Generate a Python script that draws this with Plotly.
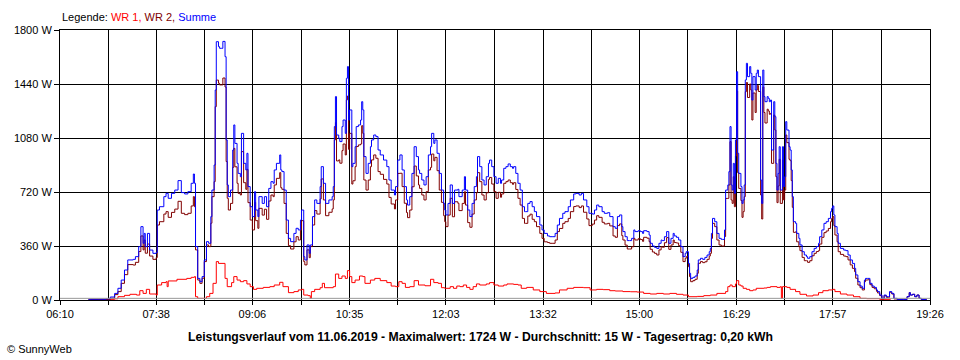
import plotly.graph_objects as go

# ---------------- data ----------------
TICK_LABELS = ["06:10", "07:38", "09:06", "10:35", "12:03", "13:32",
               "15:00", "16:29", "17:57", "19:26"]
Y_TICKS = [0, 360, 720, 1080, 1440, 1800]
BASELINE_W = 11

SUMME_TIME = [
    "06:36", "06:45", "06:52", "06:56", "07:00", "07:03", "07:06", "07:09", "07:12", "07:17",
    "07:19", "07:22", "07:24", "07:26", "07:27", "07:28", "07:30", "07:32", "07:35", "07:38",
    "07:39", "07:41", "07:45", "07:47", "07:49", "07:52", "07:55", "07:58", "08:01", "08:04",
    "08:07", "08:10", "08:12", "08:13", "08:14", "08:16", "08:18", "08:20", "08:22", "08:24",
    "08:26", "08:28", "08:29", "08:31", "08:32", "08:33", "08:35", "08:36", "08:38", "08:39",
    "08:41", "08:42", "08:43", "08:44", "08:46", "08:48", "08:49", "08:50", "08:52", "08:53",
    "08:55", "08:56", "08:58", "09:00", "09:01", "09:02", "09:04", "09:06", "09:08", "09:09",
    "09:11", "09:12", "09:15", "09:17", "09:19", "09:21", "09:23", "09:25", "09:26", "09:28",
    "09:31", "09:32", "09:33", "09:35", "09:37", "09:39", "09:41", "09:44", "09:46", "09:48",
    "09:50", "09:51", "09:53", "09:54", "09:56", "09:58", "09:59", "10:01", "10:03", "10:05",
    "10:08", "10:09", "10:11", "10:13", "10:16", "10:19", "10:20", "10:21", "10:22", "10:23",
    "10:25", "10:26", "10:28", "10:29", "10:31", "10:32", "10:33", "10:34", "10:35", "10:37",
    "10:38", "10:40", "10:41", "10:43", "10:45", "10:46", "10:47", "10:48", "10:50", "10:52",
    "10:54", "10:55", "10:57", "10:59", "11:01", "11:03", "11:06", "11:09", "11:11", "11:13",
    "11:16", "11:17", "11:19", "11:21", "11:23", "11:25", "11:27", "11:28", "11:30", "11:32",
    "11:34", "11:36", "11:38", "11:39", "11:41", "11:43", "11:45", "11:47", "11:49", "11:50",
    "11:52", "11:53", "11:55", "11:57", "11:59", "12:01", "12:02", "12:03", "12:05", "12:07",
    "12:09", "12:11", "12:14", "12:15", "12:18", "12:20", "12:21", "12:23", "12:25", "12:27",
    "12:29", "12:31", "12:32", "12:34", "12:36", "12:38", "12:40", "12:42", "12:43", "12:45",
    "12:47", "12:49", "12:51", "12:53", "12:54", "12:56", "12:58", "13:00", "13:02", "13:04",
    "13:05", "13:07", "13:09", "13:11", "13:13", "13:15", "13:16", "13:18", "13:20", "13:22",
    "13:24", "13:26", "13:29", "13:31", "13:33", "13:36", "13:38", "13:41", "13:43", "13:45",
    "13:47", "13:50", "13:52", "13:55", "13:57", "14:00", "14:02", "14:05", "14:07", "14:09",
    "14:12", "14:14", "14:17", "14:19", "14:21", "14:23", "14:26", "14:28", "14:31", "14:33",
    "14:36", "14:38", "14:40", "14:42", "14:44", "14:45", "14:47", "14:49", "14:51", "14:53",
    "14:55", "14:56", "14:59", "15:01", "15:03", "15:04", "15:07", "15:09", "15:10", "15:12",
    "15:14", "15:16", "15:18", "15:20", "15:21", "15:23", "15:25", "15:27", "15:29", "15:31",
    "15:32", "15:34", "15:36", "15:38", "15:40", "15:42", "15:43", "15:45", "15:46", "15:47",
    "15:49", "15:51", "15:53", "15:54", "15:56", "15:58", "16:00", "16:02", "16:04", "16:05",
    "16:06", "16:07", "16:09", "16:11", "16:13", "16:15", "16:16", "16:18", "16:19", "16:21",
    "16:22", "16:23", "16:24", "16:25", "16:26", "16:27", "16:28", "16:29", "16:30", "16:31",
    "16:33", "16:34", "16:35", "16:36", "16:37", "16:38", "16:39", "16:41", "16:42", "16:43",
    "16:44", "16:46", "16:47", "16:48", "16:49", "16:51", "16:52", "16:53", "16:54", "16:55",
    "16:57", "16:58", "16:59", "17:00", "17:01", "17:03", "17:04", "17:05", "17:06", "17:07",
    "17:08", "17:09", "17:11", "17:12", "17:13", "17:14", "17:15", "17:17", "17:18", "17:19",
    "17:20", "17:21", "17:23", "17:24", "17:26", "17:27", "17:29", "17:31", "17:33", "17:34",
    "17:36", "17:38", "17:40", "17:42", "17:44", "17:45", "17:47", "17:49", "17:51", "17:53",
    "17:55", "17:56", "17:57", "17:58", "17:59", "18:01", "18:02", "18:04", "18:07", "18:09",
    "18:11", "18:13", "18:15", "18:17", "18:18", "18:20", "18:22", "18:24", "18:26", "18:27",
    "18:29", "18:31", "18:33", "18:35", "18:37", "18:38", "18:40", "18:42", "18:44", "18:46",
    "18:48", "18:49", "18:51", "18:53", "18:56", "19:02", "19:05", "19:07", "19:08", "19:10",
    "19:12", "19:14", "19:16", "19:18", "19:23",
]
SUMME_W = [
    5, 5, 8, 20, 44, 78, 133, 200, 267, 271,
    289, 356, 489, 378, 444, 356, 444, 333, 311, 316,
    600, 622, 689, 711, 678, 711, 733, 796, 716, 707,
    722, 778, 840, 778, 356, 144, 122, 156, 267, 389,
    378, 556, 733, 900, 1400, 1722, 1689, 1678, 1678, 1724,
    1622, 1067, 767, 689, 733, 1000, 1167, 1044, 911, 844,
    822, 1111, 911, 867, 978, 756, 622, 556, 722, 600,
    556, 689, 644, 689, 622, 744, 789, 778, 867, 911,
    967, 867, 856, 733, 533, 411, 389, 444, 478, 467,
    533, 600, 289, 267, 367, 311, 367, 556, 667, 644,
    756, 889, 778, 644, 667, 689, 756, 1156, 1356, 1100,
    1078, 1056, 1156, 1200, 1111, 1478, 1556, 1200, 1267, 889,
    911, 1022, 1156, 1167, 1200, 1322, 1267, 956, 844, 911,
    1022, 1067, 1100, 1089, 1000, 967, 933, 889, 800, 733,
    700, 756, 933, 967, 867, 756, 667, 633, 689, 844,
    1022, 956, 867, 844, 800, 767, 822, 967, 1022, 1111,
    1044, 1067, 978, 844, 733, 644, 600, 567, 644, 767,
    644, 733, 738, 689, 733, 822, 733, 600, 556, 644,
    756, 822, 956, 889, 800, 767, 822, 911, 933, 889,
    822, 778, 811, 778, 800, 878, 889, 907, 889, 878,
    889, 844, 778, 733, 622, 589, 589, 644, 656, 622,
    589, 556, 500, 467, 444, 427, 422, 422, 444, 500,
    544, 578, 589, 622, 667, 707, 711, 700, 711, 667,
    622, 578, 573, 600, 633, 622, 589, 578, 582, 556,
    489, 478, 556, 567, 489, 456, 422, 396, 396, 411,
    467, 456, 462, 456, 444, 462, 456, 433, 378, 360,
    351, 344, 378, 400, 396, 422, 456, 378, 411, 444,
    427, 418, 400, 356, 289, 311, 322, 244, 178, 144,
    151, 160, 200, 267, 278, 271, 284, 300, 322, 344,
    444, 544, 522, 444, 411, 404, 404, 467, 733, 767,
    856, 1156, 767, 733, 911, 711, 1067, 1522, 978, 844,
    756, 644, 667, 767, 1467, 1578, 1489, 1556, 1511, 1333,
    1489, 1400, 1511, 1533, 1489, 800, 644, 1533, 1356, 1322,
    1356, 1344, 1322, 1333, 1000, 1322, 1222, 911, 733, 844,
    1022, 733, 1022, 756, 822, 1189, 1133, 1022, 1000, 867,
    689, 522, 511, 444, 411, 367, 322, 300, 289, 278,
    289, 322, 344, 356, 378, 422, 467, 511, 522, 544,
    589, 611, 627, 567, 489, 444, 378, 344, 333, 329,
    300, 267, 244, 211, 167, 122, 93, 78, 133, 144,
    144, 111, 93, 84, 67, 56, 33, 11, 33, 22,
    22, 56, 44, 11, 4, 4, 22, 49, 33, 38,
    22, 33, 11, 4, 4,
]
WR2_TIME = SUMME_TIME
WR2_W = [
    4, 4, 4, 12, 36, 56, 111, 169, 236, 233,
    251, 323, 427, 334, 400, 312, 373, 293, 271, 283,
    500, 522, 573, 589, 551, 584, 606, 658, 578, 569,
    578, 627, 689, 622, 334, 133, 111, 145, 256, 367,
    356, 512, 689, 789, 1289, 1466, 1445, 1434, 1434, 1480,
    1420, 923, 678, 600, 644, 884, 1011, 888, 778, 711,
    700, 989, 782, 738, 871, 649, 533, 467, 651, 529,
    478, 611, 566, 605, 538, 660, 700, 689, 767, 811,
    849, 749, 738, 644, 444, 362, 340, 388, 422, 400,
    466, 529, 256, 234, 334, 282, 356, 500, 596, 573,
    674, 807, 667, 562, 585, 607, 667, 1067, 1183, 927,
    934, 912, 996, 1040, 967, 1334, 1360, 1004, 1111, 773,
    795, 889, 1023, 1034, 1040, 1162, 1111, 800, 733, 800,
    889, 934, 967, 945, 856, 838, 804, 773, 684, 640,
    607, 667, 844, 845, 756, 645, 583, 549, 600, 755,
    893, 827, 767, 744, 700, 667, 722, 867, 884, 973,
    928, 951, 862, 733, 651, 562, 522, 489, 566, 678,
    555, 655, 645, 596, 644, 722, 633, 516, 485, 573,
    667, 715, 849, 789, 700, 667, 715, 804, 817, 773,
    722, 678, 718, 685, 707, 778, 789, 800, 782, 771,
    782, 737, 678, 633, 544, 511, 511, 560, 572, 538,
    522, 489, 444, 411, 388, 383, 378, 378, 400, 456,
    477, 511, 522, 544, 589, 623, 627, 616, 627, 585,
    540, 496, 506, 533, 562, 551, 518, 507, 511, 494,
    427, 418, 496, 507, 429, 400, 366, 340, 340, 355,
    411, 400, 409, 403, 391, 418, 412, 389, 338, 320,
    311, 300, 334, 356, 352, 382, 416, 338, 367, 400,
    383, 380, 362, 318, 256, 278, 289, 222, 156, 122,
    129, 138, 178, 245, 256, 249, 255, 271, 293, 311,
    411, 511, 489, 400, 367, 360, 360, 423, 677, 678,
    767, 1056, 667, 644, 822, 622, 960, 1393, 849, 744,
    663, 551, 589, 689, 1389, 1450, 1350, 1440, 1400, 1200,
    1380, 1250, 1400, 1430, 1390, 700, 540, 1420, 1250, 1180,
    1272, 1260, 1238, 1244, 911, 1233, 1133, 822, 649, 760,
    938, 644, 933, 667, 733, 1100, 1049, 938, 929, 796,
    618, 451, 455, 388, 355, 329, 284, 262, 262, 251,
    262, 295, 311, 323, 329, 373, 418, 449, 460, 477,
    522, 544, 556, 496, 433, 388, 322, 304, 293, 289,
    267, 234, 211, 189, 145, 100, 82, 67, 122, 133,
    135, 102, 84, 75, 58, 47, 29, 7, 29, 18,
    18, 52, 40, 7, 4, 4, 22, 49, 33, 38,
    22, 33, 11, 4, 4,
]
WR1_TIME = [
    "06:38", "07:00", "07:03", "07:09", "07:14", "07:20", "07:23", "07:26", "07:29", "07:32",
    "07:38", "07:39", "07:43", "07:47", "07:48", "07:49", "07:57", "08:06", "08:10", "08:13",
    "08:14", "08:16", "08:24", "08:27", "08:30", "08:33", "08:35", "08:41", "08:43", "08:47",
    "08:49", "08:52", "08:55", "08:58", "09:01", "09:04", "09:07", "09:10", "09:16", "09:22",
    "09:26", "09:31", "09:34", "09:39", "09:44", "09:48", "09:51", "09:53", "09:57", "09:59",
    "10:00", "10:03", "10:08", "10:10", "10:12", "10:20", "10:22", "10:25", "10:28", "10:31",
    "10:33", "10:35", "10:37", "10:40", "10:44", "10:47", "10:49", "10:54", "10:58", "11:03",
    "11:09", "11:13", "11:17", "11:20", "11:23", "11:26", "11:30", "11:34", "11:38", "11:44",
    "11:49", "11:52", "11:56", "11:59", "12:02", "12:07", "12:10", "12:13", "12:16", "12:19",
    "12:22", "12:25", "12:28", "12:31", "12:34", "12:40", "12:43", "12:47", "12:51", "12:56",
    "12:59", "13:05", "13:09", "13:12", "13:17", "13:23", "13:29", "13:35", "13:43", "13:47",
    "13:54", "14:00", "14:09", "14:15", "14:21", "14:27", "14:33", "14:38", "14:45", "14:52",
    "14:58", "15:04", "15:10", "15:16", "15:22", "15:28", "15:34", "15:40", "15:45", "15:53",
    "15:59", "16:05", "16:11", "16:19", "16:21", "16:23", "16:25", "16:28", "16:29", "16:31",
    "16:33", "16:35", "16:38", "16:41", "16:44", "16:47", "16:54", "16:57", "17:00", "17:06",
    "17:09", "17:10", "17:11", "17:15", "17:18", "17:23", "17:27", "17:33", "17:39", "17:44",
    "17:48", "17:53", "17:57", "17:59", "18:04", "18:10", "18:16", "18:22", "18:28", "18:40",
    "18:50",
]
WR1_W = [
    4, 8, 22, 31, 38, 33, 62, 44, 71, 40,
    33, 100, 116, 122, 89, 127, 138, 144, 151, 156,
    22, 11, 22, 44, 111, 256, 244, 144, 89, 116,
    156, 133, 122, 129, 107, 89, 71, 78, 84, 89,
    100, 118, 89, 49, 56, 67, 71, 33, 29, 11,
    56, 71, 82, 111, 82, 89, 173, 144, 160, 144,
    196, 156, 116, 133, 160, 156, 111, 133, 144, 129,
    116, 93, 89, 122, 111, 84, 89, 129, 100, 95,
    138, 116, 111, 82, 78, 89, 78, 93, 89, 100,
    84, 71, 89, 107, 100, 107, 116, 100, 93, 100,
    107, 104, 100, 78, 84, 67, 56, 44, 47, 67,
    78, 84, 82, 67, 71, 69, 62, 60, 56, 55,
    53, 44, 40, 44, 40, 44, 38, 33, 22, 24,
    29, 33, 44, 56, 89, 100, 89, 107, 129, 100,
    93, 78, 71, 62, 67, 78, 80, 84, 89, 84,
    89, 11, 89, 84, 71, 56, 38, 27, 33, 49,
    62, 67, 71, 56, 40, 33, 22, 11, 9, 4,
    4,
]

LEGEND_LABEL = "Legende: "
SERIES_NAMES = ["WR 1", "WR 2", "Summe"]
TITLE = ("Leistungsverlauf vom 11.06.2019 - Maximalwert: 1724 W - "
         "Durchschnitt: 15 W - Tagesertrag: 0,20 kWh")
COPYRIGHT = "© SunnyWeb"

# ---------------- helpers ----------------
def to_min(t):
    h, m = t.split(":")
    return int(h) * 60 + int(m)

COL_WR1 = "#FF0000"
COL_WR2 = "#800000"
COL_SUM = "#0000FF"
FONT = "Liberation Sans, Arial, sans-serif"

label_vals = [to_min(t) for t in TICK_LABELS]
tickvals, ticktext = [], []
for i, v in enumerate(label_vals):
    tickvals.append(v)
    ticktext.append(TICK_LABELS[i])
    if i + 1 < len(label_vals):
        tickvals.append((v + label_vals[i + 1]) / 2)
        ticktext.append("")

fig = go.Figure()
for name, times, vals, col in [
    (SERIES_NAMES[0], WR1_TIME, WR1_W, COL_WR1),
    (SERIES_NAMES[1], WR2_TIME, WR2_W, COL_WR2),
    (SERIES_NAMES[2], SUMME_TIME, SUMME_W, COL_SUM),
]:
    fig.add_trace(go.Scatter(
        x=[to_min(t) for t in times], y=vals, name=name, mode="lines",
        line=dict(color=col, width=1, shape="hv"), hoverinfo="skip",
    ))

axis_common = dict(
    showgrid=True, gridcolor="#000000", gridwidth=1,
    showline=True, linecolor="#000000", linewidth=1, mirror=True,
    ticks="outside", tickcolor="#000000", tickwidth=1,
    tickfont=dict(family=FONT, size=11, color="#000000"),
    zeroline=False, fixedrange=True,
)

fig.update_layout(
    width=960, height=360, autosize=False,
    margin=dict(l=60, r=30, t=30, b=60, pad=0),
    paper_bgcolor="#FFFFFF", plot_bgcolor="#FFFFFF",
    showlegend=False,
    xaxis=dict(range=[label_vals[0], label_vals[-1]], tickmode="array",
               tickvals=tickvals, ticktext=ticktext, ticklen=4, **axis_common),
    yaxis=dict(range=[Y_TICKS[0], Y_TICKS[-1]], tickmode="array",
               tickvals=Y_TICKS, ticktext=[f"{v} W" for v in Y_TICKS],
               ticklen=5, **axis_common),
    shapes=[dict(type="line", xref="paper", x0=0, x1=1, yref="y",
                 y0=BASELINE_W, y1=BASELINE_W,
                 line=dict(color="#999999", width=1), layer="above")],
    annotations=[
        dict(xref="paper", yref="paper", x=0, y=1.048, xanchor="left",
             yanchor="middle", showarrow=False,
             font=dict(family=FONT, size=11, color="#000000"),
             text=(LEGEND_LABEL
                   + f"<span style='color:{COL_WR1}'>{SERIES_NAMES[0]}, </span>"
                   + f"<span style='color:{COL_WR2}'>{SERIES_NAMES[1]}, </span>"
                   + f"<span style='color:{COL_SUM}'>{SERIES_NAMES[2]}</span>")),
        dict(xref="paper", yref="paper", x=0.4828, y=-0.137, xanchor="center",
             yanchor="middle", showarrow=False,
             font=dict(family=FONT, size=12.2, color="#000000"),
             text=f"<b>{TITLE}</b>"),
        dict(xref="paper", yref="paper", x=-0.0632, y=-0.1815, xanchor="left",
             yanchor="middle", showarrow=False,
             font=dict(family=FONT, size=11, color="#000000"),
             text=COPYRIGHT),
    ],
)

fig.write_html("out.html", config={"displayModeBar": False},
               post_script="document.body.style.margin='0px';"
                           "document.body.style.overflow='hidden';")
